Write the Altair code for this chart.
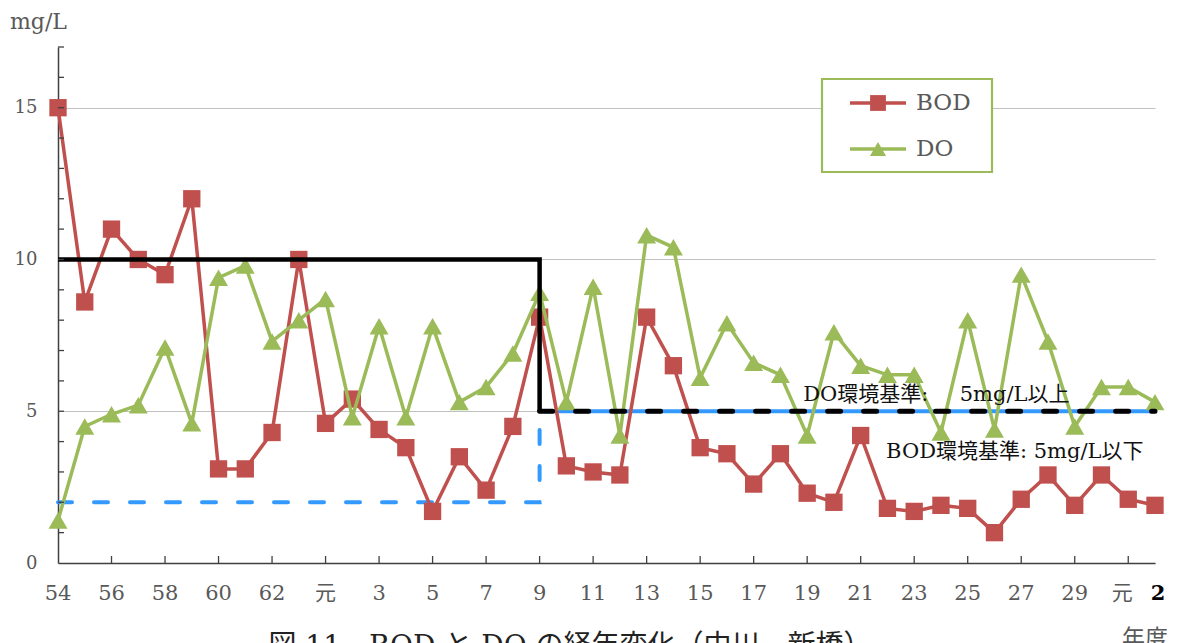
import altair as alt
import pandas as pd

# ---------------- data ----------------
years = list(range(1979, 2021))
bod = [15.0, 8.6, 11.0, 10.0, 9.5, 12.0, 3.1, 3.1, 4.3, 10.0,
       4.6, 5.4, 4.4, 3.8, 1.7, 3.5, 2.4, 4.5, 8.1, 3.2,
       3.0, 2.9, 8.1, 6.5, 3.8, 3.6, 2.6, 3.6, 2.3, 2.0,
       4.2, 1.8, 1.7, 1.9, 1.8, 1.0, 2.1, 2.9, 1.9, 2.9,
       2.1, 1.9]
do = [1.4, 4.5, 4.9, 5.2, 7.1, 4.6, 9.4, 9.8, 7.3, 8.0,
      8.7, 4.8, 7.8, 4.8, 7.8, 5.3, 5.8, 6.9, 8.9, 5.3,
      9.1, 4.2, 10.8, 10.4, 6.1, 7.9, 6.6, 6.2, 4.2, 7.6,
      6.5, 6.2, 6.2, 4.3, 8.0, 4.4, 9.5, 7.3, 4.5, 5.8,
      5.8, 5.3]

label_years = [1979, 1981, 1983, 1985, 1987, 1989, 1991, 1993, 1995, 1997, 1999,
               2001, 2003, 2005, 2007, 2009, 2011, 2013, 2015, 2017, 2019, 2020]
label_text = ["54", "56", "58", "60", "62", "元", "3", "5", "7", "9", "11",
              "13", "15", "17", "19", "21", "23", "25", "27", "29", "元", "2"]
tick_years = [1981, 1983, 1985, 1987, 1989, 1991, 1993, 1995, 1997, 1999,
              2001, 2003, 2005, 2007, 2009, 2011, 2013, 2015, 2017, 2019]
y_label_values = [0, 5, 10, 15]
y_tick_values = list(range(1, 18))

# environmental standards (BOD: 10 -> 5 from H9, DO: 2 -> 5 from H9)
bod_std_years_a = [1979, 1997, 1997]
bod_std_vals_a = [10, 10, 5]
bod_std_years_b = [1997, 2020]
bod_std_vals_b = [5, 5]
do_std_years_a = [1979, 1997, 1997]
do_std_vals_a = [2, 2, 5]
do_std_years_b = [1997, 2020]
do_std_vals_b = [5, 5]

ann_do_text = ["DO環境基準:", "5mg/L以上"]
ann_do_years = [2006.85, 2012.7]
ann_do_vals = [5.55, 5.55]
ann_bod_text = ["BOD環境基準: 5mg/L以下"]
ann_bod_years = [2009.95]
ann_bod_vals = [3.67]

legend_names = ["BOD", "DO"]
caption = "図 11　BOD と DO の経年変化（中川　新橋）"
y_unit = "mg/L"
x_unit = "年度"

# ---------------- styles ----------------
W, H = 1097, 516
FONT = "DejaVu Serif, Noto Sans CJK JP"
RED = "#C0504D"
GREEN = "#9BBB59"
BLUE = "#3399FF"
GRAY = "#595959"
AX = "#404040"

xs = alt.Scale(domain=[1979, 2020], nice=False, zero=False)
ys = alt.Scale(domain=[0, 17], nice=False, zero=True)
xaxis = alt.Axis(labels=False, ticks=False, grid=False, domain=True,
                 domainColor=AX, domainWidth=1.5, title=None)
yaxis = alt.Axis(values=y_label_values, ticks=False, grid=True, gridColor="#C0C0C0",
                 gridWidth=1.2, domain=True, domainColor=AX, domainWidth=1.5,
                 labelFont="DejaVu Serif", labelFontSize=18, labelColor=GRAY,
                 labelPadding=21, title=None)
X = alt.X("year:Q", scale=xs, axis=xaxis)
Y = alt.Y("value:Q", scale=ys, axis=yaxis)

one = pd.DataFrame({"k": [0]})

def seg(yrs, vals):
    return pd.DataFrame({"year": yrs, "value": vals, "idx": list(range(len(yrs)))})

bod_df = pd.DataFrame({"year": years, "value": bod})
do_df = pd.DataFrame({"year": years, "value": do})

# standards
blue_solid = alt.Chart(seg(do_std_years_b, do_std_vals_b)).mark_line(
    color=BLUE, strokeWidth=4).encode(x=X, y=Y, order="idx:Q")
blue_dash = alt.Chart(seg(do_std_years_a, do_std_vals_a)).mark_line(
    color=BLUE, strokeWidth=4, strokeDash=[14, 22], strokeCap="round").encode(
    x=X, y=Y, order="idx:Q")
black_solid = alt.Chart(seg(bod_std_years_a, bod_std_vals_a)).mark_line(
    color="black", strokeWidth=4.5, strokeJoin="miter").encode(x=X, y=Y, order="idx:Q")
black_dash = alt.Chart(seg(bod_std_years_b, bod_std_vals_b)).mark_line(
    color="black", strokeWidth=5, strokeDash=[13, 23], strokeCap="round").encode(
    x=X, y=Y, order="idx:Q")

# series
bod_line = alt.Chart(bod_df).mark_line(color=RED, strokeWidth=3.5).encode(x=X, y=Y)
bod_pts = alt.Chart(bod_df).mark_point(shape="square", filled=True, color=RED,
                                       size=300, opacity=1).encode(x=X, y=Y)
do_line = alt.Chart(do_df).mark_line(color=GREEN, strokeWidth=3.5).encode(x=X, y=Y)
do_pts = alt.Chart(do_df).mark_point(shape="triangle-up", filled=True, color=GREEN,
                                     size=360, opacity=1).encode(x=X, y=Y)

# axis ticks (inward)
ytick_df = pd.DataFrame({"value": y_tick_values})
yticks = alt.Chart(ytick_df).mark_rule(color=AX, strokeWidth=1.3).encode(
    y=Y, x=alt.value(0), x2=alt.value(6))
xtick_df = pd.DataFrame({"year": tick_years})
xticks = alt.Chart(xtick_df).mark_rule(color=AX, strokeWidth=1.3).encode(
    x=X, y=alt.value(H), y2=alt.value(H - 7))

# x labels
lab_df = pd.DataFrame({"year": label_years, "label": label_text})
xlabels = alt.Chart(lab_df).transform_filter("datum.year < 2019").mark_text(
    font=FONT, fontSize=21, baseline="middle", color=GRAY).encode(
    x=X, y=alt.value(H + 31), text="label:N")
xlabel_gan = alt.Chart(lab_df).transform_filter("datum.year == 2019").mark_text(
    font=FONT, fontSize=21, baseline="middle", color=GRAY, dx=-6).encode(
    x=X, y=alt.value(H + 31), text="label:N")
xlabel_last = alt.Chart(lab_df).transform_filter("datum.year == 2020").mark_text(
    font=FONT, fontSize=21, baseline="middle", color="#000000", fontWeight="bold",
    dx=3).encode(x=X, y=alt.value(H + 31), text="label:N")

xunit = alt.Chart(pd.DataFrame({"year": [2020], "label": [x_unit]})).mark_text(
    font="Noto Sans CJK JP", fontSize=23, baseline="middle", color=GRAY, dx=-10).encode(
    x=X, y=alt.value(H + 76), text="label:N")

yunit = alt.Chart(pd.DataFrame({"label": [y_unit]})).mark_text(
    font="DejaVu Serif", fontSize=22, align="left", baseline="middle", color=GRAY).encode(
    x=alt.value(-48), y=alt.value(-25), text="label:N")

cap = alt.Chart(pd.DataFrame({"label": [caption]})).mark_text(
    font=FONT, fontSize=28, align="center", baseline="middle", color="#222222").encode(
    x=alt.value(512), y=alt.value(H + 84), text="label:N")

# annotations
ann_do = alt.Chart(pd.DataFrame({"year": ann_do_years, "value": ann_do_vals,
                                 "label": ann_do_text})).mark_text(
    font=FONT, fontSize=21, align="left", baseline="middle", color="#111111").encode(
    x=X, y=Y, text="label:N")
ann_bod = alt.Chart(pd.DataFrame({"year": ann_bod_years, "value": ann_bod_vals,
                                  "label": ann_bod_text})).mark_text(
    font=FONT, fontSize=21, align="left", baseline="middle", color="#111111").encode(
    x=X, y=Y, text="label:N")

# legend (decoration)
leg_box = alt.Chart(one).mark_rect(fill="white", stroke=GREEN, strokeWidth=2.2).encode(
    x=alt.value(764), x2=alt.value(934), y=alt.value(32), y2=alt.value(125))
leg_layers = [leg_box]
for i, (name, col, shp, sz) in enumerate(zip(legend_names, [RED, GREEN],
                                             ["square", "triangle-up"], [250, 260])):
    yy = 56 + i * 46
    leg_layers.append(alt.Chart(one).mark_rule(color=col, strokeWidth=3.5).encode(
        x=alt.value(792), x2=alt.value(848), y=alt.value(yy)))
    leg_layers.append(alt.Chart(one).mark_point(shape=shp, filled=True, color=col,
                                                size=sz, opacity=1).encode(
        x=alt.value(820), y=alt.value(yy)))
    leg_layers.append(alt.Chart(pd.DataFrame({"label": [name]})).mark_text(
        font="DejaVu Serif", fontSize=23, align="left", baseline="middle", color=GRAY).encode(
        x=alt.value(858), y=alt.value(yy), text="label:N"))

chart = alt.layer(
    blue_solid, blue_dash, bod_line, bod_pts, do_line, do_pts,
    black_solid, black_dash, yticks, xticks, xlabels, xlabel_gan, xlabel_last,
    xunit, yunit, cap, ann_do, ann_bod, *leg_layers
).properties(
    width=W, height=H,
    autosize=alt.AutoSizeParams(type="none"),
    padding={"left": 50, "top": 39, "right": 14, "bottom": 88},
    background="white",
).configure_view(stroke=None)

chart.save("out.html", embed_options={"renderer": "svg", "actions": False})
